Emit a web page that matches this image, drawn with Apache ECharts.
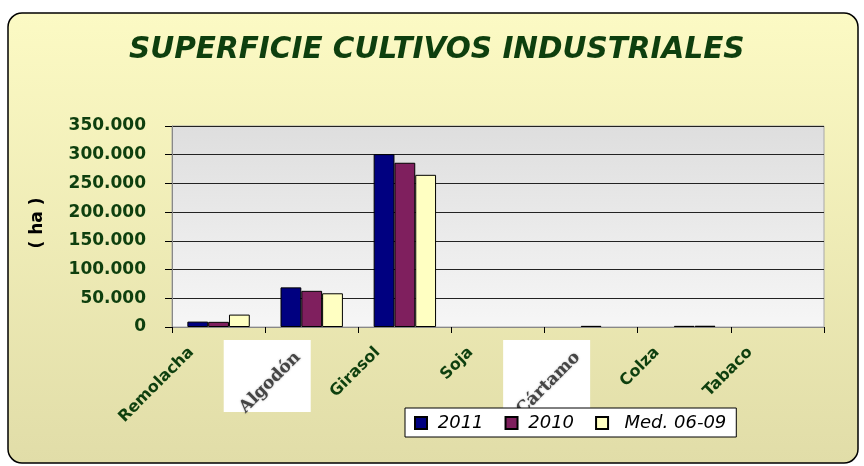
<!DOCTYPE html>
<html>
<head>
<meta charset="utf-8">
<script src="https://cdn.jsdelivr.net/npm/echarts@6/dist/echarts.min.js"></script>
<style>html,body{margin:0;padding:0;background:#fff}#c{width:864px;height:466px}</style>
</head>
<body>
<div id="c"></div>
<script>
const categories = ['Remolacha', 'Algodón', 'Girasol', 'Soja', 'Cártamo', 'Colza', 'Tabaco'];
const s2011 = [9400, 69000, 301000, 0, 0, 0, 0];
const s2010 = [9000, 63000, 286000, 0, 2000, 2000, 0];
const sMed = [21600, 58700, 265000, 0, 0, 2200, 0];
const seriesNames = ['2011', '2010', 'Med. 06-09'];
const yTicks = [0, 50000, 100000, 150000, 200000, 250000, 300000, 350000];
const titleText = 'SUPERFICIE CULTIVOS INDUSTRIALES';
const yName = '( ha )';
const imageLabels = ['Algodón', 'Cártamo'];

const green = '#0E3F0E';
const chart = echarts.init(document.getElementById('c'));
function fmt(v){ return v === 0 ? '0' : String(v/1000) + '.000'; }

const barStyle = c => ({ color: c, borderColor: '#000', borderWidth: 1 });
// zero values: no visible outline
const toData = arr => arr.map(v => v === 0 ? { value: v, itemStyle: { borderWidth: 0, opacity: 0 } } : v);

const option = {
  animation: false,
  title: {
    text: titleText, left: 124, top: 30,
    textStyle: { fontFamily: 'DejaVu Sans', fontWeight: 'bold', fontStyle: 'italic', fontSize: 29.5, color: green }
  },
  legend: {
    data: seriesNames, left: 405, top: 408, orient: 'horizontal',
    backgroundColor: '#fff', borderColor: '#000', borderWidth: 1,
    padding: [6, 10, 5, 9], itemWidth: 12, itemHeight: 12, itemGap: 21,
    icon: 'rect',
    formatter: n => (n.length > 4 ? '  ' : ' ') + n,
    textStyle: { fontFamily: 'DejaVu Sans', fontStyle: 'italic', fontSize: 18, color: '#000' }
  },
  grid: {
    left: 172, right: 40, top: 126, bottom: 139, show: true,
    backgroundColor: new echarts.graphic.LinearGradient(0, 0, 0, 1, [
      { offset: 0, color: '#DEDEDE' }, { offset: 1, color: '#F6F6F6' }]),
    borderColor: '#A8A8A8', borderWidth: 1
  },
  xAxis: {
    type: 'category', data: categories,
    axisLine: { lineStyle: { color: '#888', width: 1 } },
    axisTick: { show: true, alignWithLabel: false, length: 6, lineStyle: { color: '#000' } },
    axisLabel: {
      interval: 0, rotate: 45, margin: 2,
      formatter: v => imageLabels.indexOf(v) >= 0 ? '{img|' + v + '}' : '{n|' + v + '}',
      rich: {
        n: { fontFamily: 'DejaVu Sans', fontWeight: 'bold', fontSize: 16, color: green, padding: [0, 34, 9, 0] },
        img: { fontFamily: 'DejaVu Serif', fontWeight: 'bold', fontSize: 17, color: '#444',
               textShadowColor: 'rgba(0,0,0,0.35)', textShadowBlur: 2, padding: [17, 28, 0, 0] }
      }
    }
  },
  yAxis: {
    type: 'value', min: 0, max: 350000, interval: 50000,
    axisLine: { show: true, lineStyle: { color: '#888' } },
    axisTick: { show: true, length: 7, lineStyle: { color: '#000' } },
    axisLabel: { formatter: fmt, margin: 26, fontFamily: 'DejaVu Sans', fontWeight: 'bold', fontSize: 17, color: green },
    splitLine: { show: true, lineStyle: { color: '#222', width: 1 } }
  },
  series: [
    { name: seriesNames[0], type: 'bar', data: toData(s2011), itemStyle: barStyle('#000080'), barGap: '0%', barCategoryGap: '33%' },
    { name: seriesNames[1], type: 'bar', data: toData(s2010), itemStyle: barStyle('#7F1F5E') },
    { name: seriesNames[2], type: 'bar', data: toData(sMed), itemStyle: barStyle('#FFFFC2') }
  ],
  graphic: []
};
chart.setOption(option);

const g = [{
  type: 'rect', z: -100, silent: true,
  shape: { x: 8, y: 13, width: 850, height: 450, r: 14 },
  style: {
    fill: new echarts.graphic.LinearGradient(0, 0, 0, 1, [
      { offset: 0, color: '#FCFAC4' }, { offset: 1, color: '#E1DDA8' }]),
    stroke: '#000', lineWidth: 1.5
  }
}, {
  type: 'text', silent: true, x: 38, y: 223, rotation: Math.PI / 2,
  style: { text: yName, align: 'center', verticalAlign: 'middle',
           font: 'bold 17px "DejaVu Sans"', fill: '#000' }
}];
imageLabels.forEach(name => {
  const p = chart.convertToPixel({ xAxisIndex: 0 }, name);
  const y0 = chart.convertToPixel({ yAxisIndex: 0 }, 0);
  g.push({ type: 'rect', z: -50, silent: true,
    shape: { x: p - 88, y: y0 + 13, width: 87, height: 72 },
    style: { fill: '#fff' } });
});
chart.setOption({ graphic: g });
</script>
</body>
</html>
